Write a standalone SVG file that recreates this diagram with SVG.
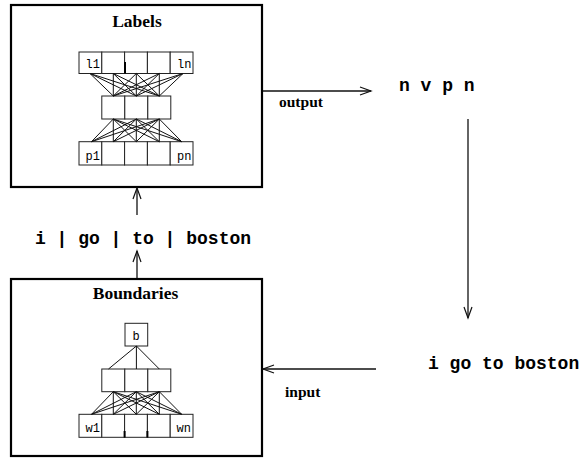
<svg xmlns="http://www.w3.org/2000/svg" width="582" height="461" viewBox="0 0 582 461">
  <style>
    .frame { fill: none; stroke: #000; stroke-width: 2.2; }
    .cell { fill: #fff; stroke: #222; stroke-width: 1; }
    .link { stroke: #111; stroke-width: 1; fill: none; }
    .conn { stroke: #111; stroke-width: 1.3; fill: none; }
    .head { stroke: #111; stroke-width: 1.2; fill: none; }
    .tick { stroke: #000; stroke-width: 2; }
    .title { font-family: "Liberation Serif", "Times New Roman", serif; font-weight: bold; font-size: 17.5px; text-anchor: middle; }
    .lbl { font-family: "Liberation Serif", "Times New Roman", serif; font-weight: bold; font-size: 15.5px; }
    .cellt { font-family: "Liberation Mono", "Courier New", monospace; font-size: 12px; }
    .seq { font-family: "Liberation Mono", "Courier New", monospace; font-weight: bold; font-size: 18px; }
  </style>

  <!-- Labels module -->
  <g id="labels">
    <rect class="frame" x="11" y="5" width="251" height="182"/>
    <text class="title" x="137" y="27">Labels</text>
    <!-- output layer -->
    <rect class="cell" x="79" y="52" width="22.8" height="21.5"/>
    <rect class="cell" x="101.8" y="52" width="22.8" height="21.5"/>
    <rect class="cell" x="124.6" y="52" width="22.8" height="21.5"/>
    <rect class="cell" x="147.4" y="52" width="22.8" height="21.5"/>
    <rect class="cell" x="170.2" y="52" width="22.8" height="21.5"/>
    <line class="tick" x1="125" y1="62" x2="125" y2="73.5"/>
    <text class="cellt" x="85.5" y="67.5">l1</text>
    <text class="cellt" x="177" y="67.5">ln</text>
    <!-- hidden layer -->
    <rect class="cell" x="101.8" y="96" width="23" height="23"/>
    <rect class="cell" x="124.8" y="96" width="23" height="23"/>
    <rect class="cell" x="147.8" y="96" width="23" height="23"/>
    <!-- input layer -->
    <rect class="cell" x="79" y="141.7" width="22.8" height="23.3"/>
    <rect class="cell" x="101.8" y="141.7" width="22.8" height="23.3"/>
    <rect class="cell" x="124.6" y="141.7" width="22.8" height="23.3"/>
    <rect class="cell" x="147.4" y="141.7" width="22.8" height="23.3"/>
    <rect class="cell" x="170.2" y="141.7" width="22.8" height="23.3"/>
    <text class="cellt" x="85.5" y="159.5">p1</text>
    <text class="cellt" x="177" y="159.5">pn</text>
    <!-- weights: output to hidden -->
    <g class="link">
      <path d="M90 73.5 L113.3 96 M90 73.5 L136.3 96 M90 73.5 L159.3 96"/>
      <path d="M113.3 73.5 L113.3 96 M113.3 73.5 L136.3 96 M113.3 73.5 L159.3 96"/>
      <path d="M136.3 73.5 L113.3 96 M136.3 73.5 L136.3 96 M136.3 73.5 L159.3 96"/>
      <path d="M159.3 73.5 L113.3 96 M159.3 73.5 L136.3 96 M159.3 73.5 L159.3 96"/>
      <path d="M183 73.5 L113.3 96 M183 73.5 L136.3 96 M183 73.5 L159.3 96"/>
    </g>
    <!-- weights: hidden to input -->
    <g class="link">
      <path d="M113.3 119 L91.5 141.7 M113.3 119 L113.3 141.7 M113.3 119 L136.3 141.7 M113.3 119 L159.3 141.7 M113.3 119 L181.7 141.7"/>
      <path d="M136.3 119 L91.5 141.7 M136.3 119 L113.3 141.7 M136.3 119 L136.3 141.7 M136.3 119 L159.3 141.7 M136.3 119 L181.7 141.7"/>
      <path d="M159.3 119 L91.5 141.7 M159.3 119 L113.3 141.7 M159.3 119 L136.3 141.7 M159.3 119 L159.3 141.7 M159.3 119 L181.7 141.7"/>
    </g>
  </g>

  <!-- Boundaries module -->
  <g id="boundaries">
    <rect class="frame" x="11" y="279" width="251" height="177"/>
    <text class="title" x="135.5" y="299">Boundaries</text>
    <rect class="cell" x="125" y="323.3" width="22.7" height="22.7"/>
    <text class="cellt" x="132.5" y="340">b</text>
    <!-- hidden layer -->
    <rect class="cell" x="101.8" y="369" width="23" height="22.7"/>
    <rect class="cell" x="124.8" y="369" width="23" height="22.7"/>
    <rect class="cell" x="147.8" y="369" width="23" height="22.7"/>
    <!-- word layer -->
    <rect class="cell" x="79" y="414.3" width="22.8" height="23"/>
    <rect class="cell" x="101.8" y="414.3" width="22.8" height="23"/>
    <rect class="cell" x="124.6" y="414.3" width="22.8" height="23"/>
    <rect class="cell" x="147.4" y="414.3" width="22.8" height="23"/>
    <rect class="cell" x="170.2" y="414.3" width="22.8" height="23"/>
    <line class="tick" x1="124.6" y1="431" x2="124.6" y2="437.5"/>
    <line class="tick" x1="147.4" y1="431" x2="147.4" y2="437.5"/>
    <text class="cellt" x="85.5" y="432">w1</text>
    <text class="cellt" x="176.5" y="432">wn</text>
    <!-- weights: b to hidden -->
    <g class="link">
      <path d="M136.4 346 L108.5 369 M136.4 346 L136.4 369 M136.4 346 L159.3 369"/>
    </g>
    <!-- weights: hidden to words -->
    <g class="link">
      <path d="M113.3 391.7 L91.5 414.3 M113.3 391.7 L113.3 414.3 M113.3 391.7 L136.3 414.3 M113.3 391.7 L159.3 414.3 M113.3 391.7 L181.7 414.3"/>
      <path d="M136.3 391.7 L91.5 414.3 M136.3 391.7 L113.3 414.3 M136.3 391.7 L136.3 414.3 M136.3 391.7 L159.3 414.3 M136.3 391.7 L181.7 414.3"/>
      <path d="M159.3 391.7 L91.5 414.3 M159.3 391.7 L113.3 414.3 M159.3 391.7 L136.3 414.3 M159.3 391.7 L159.3 414.3 M159.3 391.7 L181.7 414.3"/>
    </g>
  </g>

  <!-- Data flow between modules -->
  <g id="connectors">
    <!-- segmented words up into Labels -->
    <line class="conn" x1="137" y1="215" x2="137" y2="188"/>
    <polyline class="head" points="133,199 137,188 141,199"/>
    <!-- Boundaries output up to segmented words -->
    <line class="conn" x1="137" y1="278" x2="137" y2="251"/>
    <polyline class="head" points="133,262 137,251 141,262"/>
    <!-- output -->
    <line class="conn" x1="263" y1="91" x2="371" y2="91"/>
    <polyline class="head" points="360,87 371,91 360,95"/>
    <!-- tags down to sentence -->
    <line class="conn" x1="468" y1="119" x2="468" y2="318"/>
    <polyline class="head" points="464,307 468,318 472,307"/>
    <!-- input -->
    <line class="conn" x1="376" y1="369" x2="263" y2="369"/>
    <polyline class="head" points="274,365 263,369 274,373"/>
  </g>

  <g id="texts">
    <text class="seq" x="35" y="244">i | go | to | boston</text>
    <text class="seq" x="399" y="91">n v p n</text>
    <text class="seq" x="428" y="369">i go to boston</text>
    <text class="lbl" x="279" y="107">output</text>
    <text class="lbl" x="285" y="397">input</text>
  </g>
</svg>
